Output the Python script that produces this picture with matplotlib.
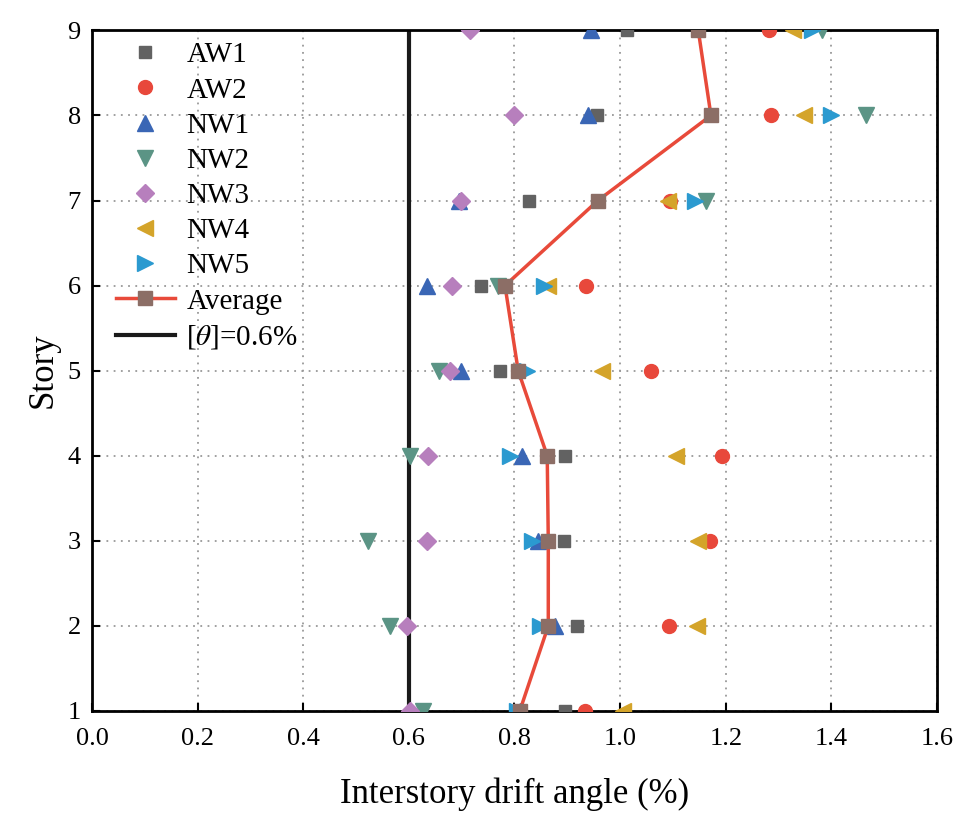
import numpy as np
import matplotlib.pyplot as plt

plt.rcParams['font.family'] = ['Liberation Serif', 'DejaVu Serif']
plt.rcParams['mathtext.fontset'] = 'stix'

stories = [1, 2, 3, 4, 5, 6, 7, 8, 9]
aw1 = [0.896, 0.918, 0.894, 0.896, 0.773, 0.737, 0.828, 0.956, 1.013]
aw2 = [0.934, 1.093, 1.170, 1.193, 1.059, 0.936, 1.095, 1.286, 1.282]
nw1 = [0.810, 0.877, 0.845, 0.814, 0.699, 0.634, 0.695, 0.940, 0.945]
nw2 = [0.627, 0.564, 0.523, 0.602, 0.657, 0.769, 1.163, 1.466, 1.383]
nw3 = [0.602, 0.596, 0.634, 0.636, 0.678, 0.682, 0.699, 0.800, 0.716]
nw4 = [1.006, 1.146, 1.148, 1.106, 0.966, 0.864, 1.090, 1.348, 1.328]
nw5 = [0.805, 0.848, 0.833, 0.792, 0.824, 0.856, 1.142, 1.400, 1.364]
avg = [0.810, 0.864, 0.864, 0.862, 0.807, 0.782, 0.958, 1.172, 1.148]
limit = 0.6

fig = plt.figure(figsize=(9.63, 8.21), dpi=100)
ax = fig.add_axes([0.0955, 0.134, 0.8775, 0.829])

ms = 10
ax.plot(aw1, stories, 's', color='#626262', ms=ms-1, label='AW1', zorder=3)
ax.plot(aw2, stories, 'o', color='#e8483b', ms=ms, label='AW2', zorder=3)
ax.plot(nw1, stories, '^', color='#3a66b5', ms=ms+1, label='NW1', zorder=3)
ax.plot(nw2, stories, 'v', color='#5b9485', ms=ms+1, label='NW2', zorder=3)
ax.plot(nw3, stories, 'D', color='#b77fbd', ms=ms-1, label='NW3', zorder=3)
ax.plot(nw4, stories, '<', color='#d4a42a', ms=ms+1, label='NW4', zorder=3)
ax.plot(nw5, stories, '>', color='#2b9ad0', ms=ms+1, label='NW5', zorder=3)
ax.plot(avg, stories, '-s', color='#e84a3a', mfc='#8c6e66', mec='#8c6e66',
        lw=2.5, ms=ms, label='Average', zorder=4)
ax.axvline(limit, color='#1a1a1a', lw=3, label=r'[$\theta$]=0.6%', zorder=2)

ax.set_xlim(0, 1.6)
ax.set_ylim(1, 9)
ax.set_xticks(np.arange(0, 1.61, 0.2))
ax.set_yticks(stories)
ax.set_xticklabels([f'{v:.1f}' for v in np.arange(0, 1.61, 0.2)])
ax.tick_params(labelsize=19, direction='in', length=6, width=1.5, pad=12)
ax.tick_params(axis='y', pad=8)
ax.grid(True, color='#999999', ls=(0, (1, 3)), lw=1.3)
for s in ax.spines.values():
    s.set_linewidth(2)

ax.set_xlabel('Interstory drift angle (%)', fontsize=25, labelpad=20)
ax.set_ylabel('Story', fontsize=25, labelpad=6)
ax.legend(loc='upper left', frameon=False, fontsize=21, handlelength=2.0,
          handletextpad=0.4, borderaxespad=0.0, labelspacing=0.3,
          bbox_to_anchor=(0.015, 1.0))

fig.savefig('out.png', dpi=100)
